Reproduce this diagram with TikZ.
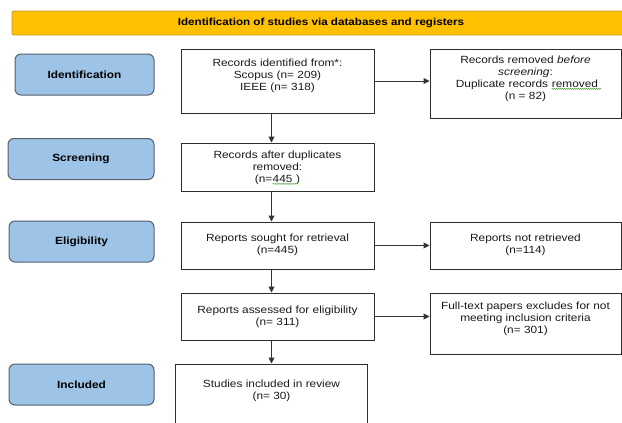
\documentclass[tikz,border=0pt]{standalone}
\usepackage{fontspec}
\setmainfont{Liberation Sans}[FakeStretch=1.14]
\usepackage{tikz}
\usetikzlibrary{positioning}
\usetikzlibrary{arrows.meta}
\usetikzlibrary{decorations.pathmorphing}

\definecolor{bannerfill}{HTML}{FFC000}
\definecolor{bannerline}{HTML}{C09A28}
\definecolor{phasefill}{HTML}{9DC3E6}
\definecolor{phaseline}{HTML}{55606B}
\definecolor{boxline}{HTML}{2E2E2E}
\definecolor{spellgreen}{HTML}{5BA84A}

\tikzstyle{squig}=[spellgreen,line width=0.5pt,decorate,decoration={snake,amplitude=0.6pt,segment length=2pt}]
\newcommand{\spellmark}[1]{\tikz[baseline=(sw.base)]{\node[inner sep=0pt] (sw) {#1};
\draw[squig] ([yshift=-1.6pt]sw.base west) -- ([yshift=-1.6pt]sw.base east);}}

\tikzstyle{banner}=[draw=bannerline,fill=bannerfill,rounded corners=2pt,line width=0.8pt,
minimum width=618pt,minimum height=24pt,font=\fontsize{10.2}{12}\selectfont\bfseries]
\tikzstyle{phase}=[draw=phaseline,fill=phasefill,rounded corners=6pt,line width=1pt,
minimum height=41pt,font=\fontsize{10.4}{12}\selectfont\bfseries]
\tikzstyle{box}=[draw=boxline,line width=1pt,minimum width=193pt]
\tikzstyle{txt}=[align=center,inner sep=0pt,font=\fontsize{10.4}{12}\selectfont,text=black!90]
\tikzstyle{flow}=[draw,line width=1pt,black!80,-{Triangle[length=6pt,width=6pt]}]

\begin{document}
\begin{tikzpicture}[x=1pt,y=-1pt]
	\useasboundingbox (0,0) rectangle (622,423);

	\node[banner] (head) at (321,23) {Identification of studies via databases and registers};

% % % phases
	\node[phase,minimum width=139pt] (idph) at (84.5,74.5) {Identification};
	\node[phase,minimum width=146pt] (scph) at (81,159) {Screening};
	\node[phase,minimum width=145pt] (elph) at (81.5,241.5) {Eligibility};
	\node[phase,minimum width=145pt] (inph) at (81.5,384.5) {Included};

% % % main column
	\node[box,minimum height=64pt] (recid) at (277.5,81) {};
	\node[txt,below=10.4pt of recid.north] (recidt) {Records identified from*:\\ Scopus (n= 209)\\ IEEE (n= 318)};

	\node[box,minimum height=48pt] (recdup) at (277.5,167) {};
	\node[txt,below=8pt of recdup.north] (recdupt) {Records after duplicates\\ removed:\\ (n=\spellmark{445 })};

	\node[box,minimum height=47pt] (sought) at (277.5,245.5) {};
	\node[txt,below=12pt of sought.north] (soughtt) {Reports sought for retrieval\\ (n=445)};

	\node[box,minimum height=47pt] (assess) at (277.5,316.5) {};
	\node[txt,below=13pt of assess.north] (assesst) {Reports assessed for eligibility\\ (n= 311)};

	\node[box,minimum width=192pt,minimum height=76pt] (incl) at (271.5,402) {};
	\node[txt,below=16pt of incl.north] (inclt) {Studies included in review\\ (n= 30)};

% % % excluded column
	\node[box,minimum width=191pt,minimum height=69pt] (removed) at (525.5,83.5) {};
	\node[txt,below=7pt of removed.north] (removedt) {Records removed \textit{before}\\ \textit{screening}:\\ \ \ Duplicate records \spellmark{removed }\\ (n = 82)};

	\node[box,minimum width=191pt,minimum height=47pt] (notret) at (525.5,245.5) {};
	\node[txt,below=12pt of notret.north] (notrett) {Reports not retrieved\\ (n=114)};

	\node[box,minimum width=191pt,minimum height=61pt] (fulltext) at (525.5,323.5) {};
	\node[txt,below=9pt of fulltext.north] (fulltextt) {Full-text papers excludes for not\\ meeting inclusion criteria\\ (n= 301)};

% % % arrows
	\path[flow] (recid.south -| incl.north) -- (recdup.north -| incl.north);
	\path[flow] (recdup.south -| incl.north) -- (sought.north -| incl.north);
	\path[flow] (sought.south -| incl.north) -- (assess.north -| incl.north);
	\path[flow] (assess.south -| incl.north) -- (incl.north);

	\path[flow] (recid.east) -- (recid.east -| removed.west);
	\path[flow] (sought.east) -- (sought.east -| notret.west);
	\path[flow] (assess.east) -- (assess.east -| fulltext.west);

\end{tikzpicture}
\end{document}
